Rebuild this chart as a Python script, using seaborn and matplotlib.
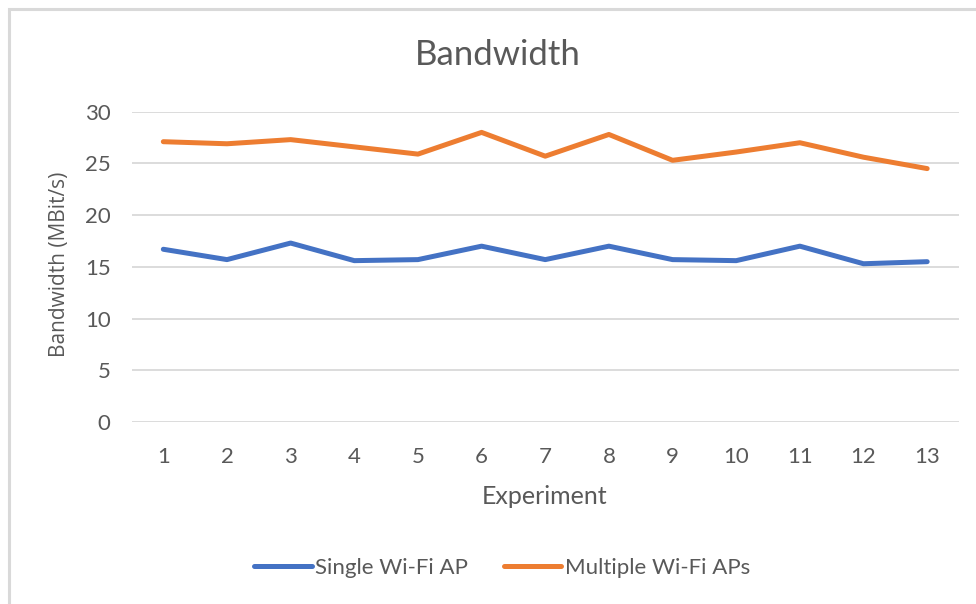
import matplotlib
matplotlib.use('Agg')
import matplotlib.pyplot as plt
import pandas as pd
import seaborn as sns
from matplotlib.patches import Rectangle

# Data
experiments = list(range(1, 14))
single_ap = [16.7, 15.7, 17.3, 15.6, 15.7, 17.0, 15.7, 17.0, 15.7, 15.6, 17.0, 15.3, 15.5]
multiple_aps = [27.1, 26.9, 27.3, 26.6, 25.9, 28.0, 25.7, 27.8, 25.3, 26.1, 27.0, 25.6, 24.5]
series_names = ['Single Wi-Fi AP', 'Multiple Wi-Fi APs']
y_ticks = [0, 5, 10, 15, 20, 25, 30]

df = pd.DataFrame({
    'Experiment': experiments + experiments,
    'Bandwidth': single_ap + multiple_aps,
    'Series': [series_names[0]] * len(experiments) + [series_names[1]] * len(experiments),
})

sns.set_theme(style='white')
plt.rcParams['font.family'] = ['Lato', 'DejaVu Sans']
text_color = '#595959'
grid_color = '#D9D9D9'

W, H = 976, 604
fig = plt.figure(figsize=(W / 100, H / 100), dpi=100)
fig.patch.set_facecolor('white')

# chart area border (runs off the right and bottom edges)
fig.patches.append(Rectangle((8.5 / W, -0.1), 1.2, 1 - 8.5 / H + 0.1, transform=fig.transFigure,
                             fill=False, edgecolor=grid_color, linewidth=2.2))

left, right = 131.5 / W, 959 / W
bottom, top = 1 - 422 / H, 1 - 111.7 / H
ax = fig.add_axes([left, bottom, right - left, top - bottom])

# Line chart
sns.lineplot(data=df, x='Experiment', y='Bandwidth', hue='Series',
             palette=['#4472C4', '#ED7D31'], linewidth=3.6, ax=ax, legend=True)

ax.set_xlim(0.5, 13.5)
ax.set_ylim(0, 30)
ax.set_xticks(experiments)
ax.set_yticks(y_ticks)
ax.set_xticklabels([str(e) for e in experiments])
ax.set_yticklabels([str(t) for t in y_ticks])
ax.tick_params(axis='x', length=0, pad=18, labelsize=16, labelcolor=text_color)
ax.tick_params(axis='y', length=0, pad=15, labelsize=16, labelcolor=text_color)
ax.yaxis.grid(True, color=grid_color, linewidth=1.3)
ax.set_axisbelow(True)
for s in ax.spines.values():
    s.set_visible(False)
ax.set_xlabel('')
ax.set_ylabel('')

# titles and axis labels
fig.text(498 / W, 1 - 55 / H, 'Bandwidth', ha='center', va='center', fontsize=25, color=text_color)
fig.text(544.5 / W, 1 - 496 / H, 'Experiment', ha='center', va='center', fontsize=18, color=text_color)
fig.text(60 / W, 1 - 264 / H, 'Bandwidth (MBit/s)', ha='center', va='center', rotation=90,
         fontsize=15, color=text_color, family=['Open Sans', 'DejaVu Sans'])

# legend at the bottom
handles, labels = ax.get_legend_handles_labels()
ax.get_legend().remove()
fig.legend(handles, labels, loc='center', bbox_to_anchor=(502 / W, 1 - 568 / H), ncol=2,
           frameon=False, fontsize=16, labelcolor=text_color, handlelength=2.6,
           handletextpad=0.15, columnspacing=1.6)

fig.savefig('out.png', dpi=100, facecolor='white')
